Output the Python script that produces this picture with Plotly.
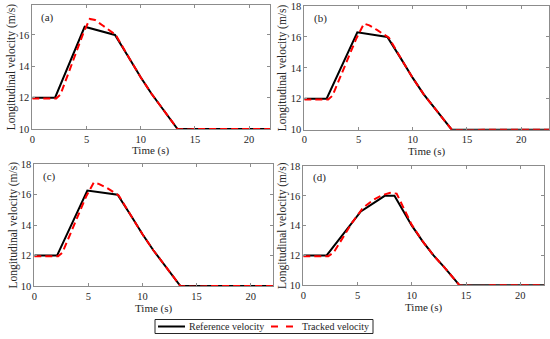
import plotly.graph_objects as go

FONT = "Liberation Serif, Times New Roman, DejaVu Serif, serif"

# ---- data ----
t_a_ref = [0, 2.1, 4.83, 7.63, 9.0, 10.0, 11.0, 12.0, 13.4, 22]
v_a_ref = [12, 12, 16.52, 16.0, 14.45, 13.3, 12.25, 11.3, 10, 10]
t_a_trk = [0, 2.2, 2.6, 3.2, 4.0, 4.7, 5.3, 5.8, 6.5, 7.2, 7.7, 9.0, 10.0, 11.0, 12.0, 13.4, 14.5, 15.0, 22]
v_a_trk = [11.95, 11.95, 12.2, 13.3, 14.7, 16.1, 17.02, 16.95, 16.6, 16.25, 16.0, 14.45, 13.3, 12.25, 11.3, 10.0, 9.97, 10.0, 10]

t_b_ref = [0, 2.06, 4.89, 7.66, 9.0, 10.0, 11.0, 12.0, 13.6, 23]
v_b_ref = [12, 12, 16.3, 16.0, 14.5, 13.35, 12.3, 11.4, 10, 10]
t_b_trk = [0, 2.2, 2.6, 3.2, 4.0, 4.8, 5.5, 6.0, 6.7, 7.3, 7.8, 9.0, 10.0, 11.0, 12.0, 13.6, 15.0, 16.5, 23]
v_b_trk = [11.95, 11.95, 12.2, 13.2, 14.6, 15.9, 16.86, 16.75, 16.45, 16.2, 15.95, 14.5, 13.35, 12.3, 11.4, 10.0, 9.95, 10.0, 10]

t_c_ref = [0, 2.1, 4.9, 7.7, 9.0, 10.0, 11.0, 12.0, 13.5, 23]
v_c_ref = [12, 12, 16.28, 16.0, 14.55, 13.4, 12.35, 11.4, 10, 10]
t_c_trk = [0, 2.2, 2.6, 3.2, 4.0, 4.8, 5.5, 6.0, 6.7, 7.3, 7.8, 9.0, 10.0, 11.0, 12.0, 13.5, 15.0, 16.5, 23]
v_c_trk = [11.95, 11.95, 12.2, 13.2, 14.6, 15.9, 16.8, 16.7, 16.45, 16.2, 15.95, 14.55, 13.4, 12.35, 11.4, 10.0, 9.95, 10.0, 10]

t_d_ref = [0, 2.15, 5.3, 7.5, 8.4, 10.0, 11.0, 12.0, 13.0, 14.4, 23]
v_d_ref = [12, 12, 14.95, 16.0, 16.0, 14.0, 12.95, 12.0, 11.2, 10, 10]
t_d_trk = [0, 2.3, 2.8, 3.5, 4.5, 5.5, 6.5, 7.3, 8.0, 8.6, 9.2, 10.0, 11.0, 12.0, 13.0, 14.4, 16.0, 17.3, 23]
v_d_trk = [11.95, 11.95, 12.2, 13.0, 14.2, 15.2, 15.75, 16.05, 16.2, 16.15, 15.2, 14.05, 12.95, 12.0, 11.2, 10.0, 9.95, 10.0, 10]

series_names = ["Reference velocity", "Tracked velocity"]
panel_labels = ["(a)", "(b)", "(c)", "(d)"]
x_title = "Time (s)"
y_title = "Longitudinal velocity (m/s)"
x_ticks = [0, 5, 10, 15, 20]
y_ticks = [10, 12, 14, 16, 18]

W, H = 550, 339
# plot areas in pixels: (left, right, top, bottom)
boxes = [(32.3, 270.0, 5.0, 129.0),
         (304.3, 549.0, 6.0, 129.7),
         (34.3, 272.7, 164.3, 286.0),
         (303.3, 544.0, 166.0, 285.3)]
xranges = [[0, 21.93], [0, 22.57], [0, 22.03], [0, 22.18]]
yranges = [[10, 17.91], [10, 18], [10, 18], [10, 18]]

refs = [(t_a_ref, v_a_ref), (t_b_ref, v_b_ref), (t_c_ref, v_c_ref), (t_d_ref, v_d_ref)]
trks = [(t_a_trk, v_a_trk), (t_b_trk, v_b_trk), (t_c_trk, v_c_trk), (t_d_trk, v_d_trk)]

REF_LINE = dict(color="black", width=2)
TRK_LINE = dict(color="#ff0000", width=2, dash="7px,4px")
TXT = "#262626"

fig = go.Figure()
layout = {}
annotations = []
for i in range(4):
    n = "" if i == 0 else str(i + 1)
    xa, ya = "x" + n, "y" + n
    l, r, t, b = boxes[i]
    fig.add_trace(go.Scatter(x=refs[i][0], y=refs[i][1], mode="lines", xaxis=xa, yaxis=ya,
                             line=REF_LINE, name=series_names[0], showlegend=False))
    fig.add_trace(go.Scatter(x=trks[i][0], y=trks[i][1], mode="lines", xaxis=xa, yaxis=ya,
                             line=TRK_LINE, name=series_names[1], showlegend=False))
    common = dict(showgrid=False, zeroline=False, showline=True, linecolor="#8c8c8c", linewidth=1,
                  mirror="ticks", ticks="inside", ticklen=3, tickcolor="#8c8c8c", automargin=False,
                  tickfont=dict(family=FONT, size=10.5, color=TXT))
    layout["xaxis" + n] = dict(common, domain=[l / W, r / W], range=xranges[i], tickvals=x_ticks,
                               anchor=ya)
    layout["yaxis" + n] = dict(common, domain=[1 - b / H, 1 - t / H], range=yranges[i],
                               tickvals=y_ticks, anchor=xa)
    annotations.append(dict(text=panel_labels[i], xref=xa + " domain", yref=ya + " domain",
                            x=0.03, y=0.9, xanchor="left", yanchor="middle", showarrow=False,
                            font=dict(family=FONT, size=11, color=TXT)))
    annotations.append(dict(text=x_title, xref="paper", yref="paper", x=(l + r) / 2 / W,
                            y=1 - (b + 22) / H, xanchor="center", yanchor="middle", showarrow=False,
                            font=dict(family=FONT, size=11, color=TXT)))
    annotations.append(dict(text=y_title, xref="paper", yref="paper", x=(l - 21) / W,
                            y=1 - (t + b) / 2 / H, xanchor="center", yanchor="middle", showarrow=False,
                            textangle=-90, font=dict(family=FONT, size=11.5, color=TXT)))

# custom compact legend (box, line samples, labels)
ly = 1 - 326.5 / H
shapes = [
    dict(type="rect", xref="paper", yref="paper", x0=155 / W, x1=373 / W, y0=1 - 333.5 / H, y1=1 - 319.5 / H,
         line=dict(color=TXT, width=1), fillcolor="white", layer="above"),
    dict(type="line", xref="paper", yref="paper", x0=158 / W, x1=185 / W, y0=ly, y1=ly, line=REF_LINE),
    dict(type="line", xref="paper", yref="paper", x0=271 / W, x1=294 / W, y0=ly, y1=ly,
         line=dict(color="#ff0000", width=2, dash="7px,8px")),
]
annotations.append(dict(text=series_names[0], xref="paper", yref="paper", x=187 / W, y=ly,
                        xanchor="left", yanchor="middle", showarrow=False,
                        font=dict(family=FONT, size=10, color=TXT)))
annotations.append(dict(text=series_names[1], xref="paper", yref="paper", x=300 / W, y=ly,
                        xanchor="left", yanchor="middle", showarrow=False,
                        font=dict(family=FONT, size=10, color=TXT)))

fig.update_layout(**layout)
fig.update_layout(width=W, height=H, margin=dict(l=0, r=0, t=0, b=0, autoexpand=False),
                  paper_bgcolor="white", plot_bgcolor="white",
                  font=dict(family=FONT, color=TXT),
                  annotations=annotations, shapes=shapes, showlegend=False)
fig.write_html("out.html", config={"displayModeBar": False},
               post_script="document.body.style.margin='0';document.body.style.padding='0';document.documentElement.style.margin='0';")
